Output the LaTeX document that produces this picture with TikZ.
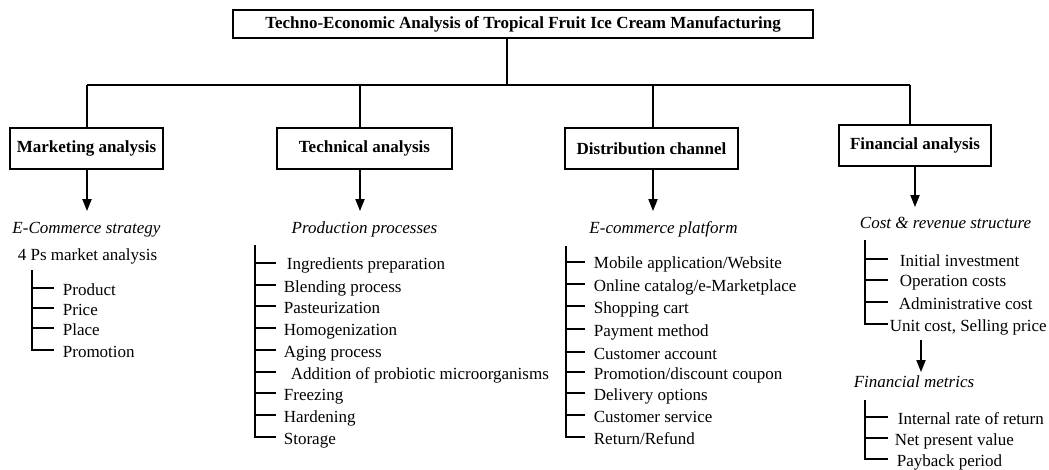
\documentclass[tikz,border=0pt]{standalone}
\usepackage{fontspec}
\setmainfont{Liberation Serif}
\usetikzlibrary{arrows.meta}
\begin{document}
\begin{tikzpicture}[x=1pt,y=-1pt,
  line width=1.8pt,
  every node/.style={font=\fontsize{17pt}{20pt}\selectfont},
  box/.style={draw, line width=1.8pt, minimum height=41pt, inner sep=0pt,
    font=\fontsize{17pt}{20pt}\selectfont\bfseries},
  item/.style={anchor=west, inner sep=0pt, text height=14pt, text depth=0pt},
  plain/.style={inner sep=0pt, text height=12pt, text depth=4pt},
  head/.style={inner sep=0pt, text height=12pt, text depth=4pt,
    font=\fontsize{17pt}{20pt}\selectfont\itshape},
  arr/.style={-{Triangle[length=12pt,width=9pt]}, line width=1.8pt},
]
\useasboundingbox (0,0) rectangle (1049,470);

% title and the four main branches
\node[box, minimum width=580pt, minimum height=28pt] (title) at (523,24)
  {Techno-Economic Analysis of Tropical Fruit Ice Cream Manufacturing};
\node[box, minimum width=153pt] (mk) at (86.5,148.5) {Marketing analysis};
\node[box, minimum width=175pt] (tc) at (364.5,148.5) {Technical analysis};
\node[box, minimum width=173pt] (dc) at (651.5,148.5) {Distribution channel};
\node[box, minimum width=152pt] (fa) at (915,145.5) {Financial analysis};

\coordinate (j0) at (507,85);
\coordinate (b1) at (87,85);
\coordinate (b2) at (360,85);
\coordinate (b3) at (653,85);
\coordinate (b4) at (910,85);
\draw (title.south -| j0) -- (j0);
\draw (b1) -- (b4);
\draw (b1) -- (b1 |- mk.north);
\draw (b2) -- (b2 |- tc.north);
\draw (b3) -- (b3 |- dc.north);
\draw (b4) -- (b4 |- fa.north);

% sub-headings
\node[head] (ecs) at (86.5,230) {E-Commerce strategy};
\node[plain] (fourp) at (87.5,257) {4 Ps market analysis};
\node[head] (pp) at (364.5,230) {Production processes};
\node[head] (ep) at (663.5,230) {E-commerce platform};
\node[head] (cr) at (945.5,225) {Cost \& revenue structure};
\node[head] (fm) at (914,383) {Financial metrics};

\draw[arr, shorten >=10pt] (b1 |- mk.south) -- (b1 |- ecs.north);
\draw[arr, shorten >=10pt] (b2 |- tc.south) -- (b2 |- pp.north);
\draw[arr, shorten >=10pt] (b3 |- dc.south) -- (b3 |- ep.north);
\draw[arr, shorten >=9pt] (fa.south) -- (fa.south |- cr.north);
\coordinate (fs) at (921,340);
\draw[arr, shorten >=2pt] (fs) -- (fs |- fm.north);

% marketing list
\coordinate (mt) at (32,270);
\coordinate (me) at (54,270);
\foreach \n/\x/\y/\t in {m1/62/288/Product, m2/62/308/Price, m3/62/328/Place, m4/62/350/Promotion}{
  \node[item] (\n) at (\x,\y) {\t};
  \draw (mt |- \n.west) -- (me |- \n.west);
}
\draw (mt) |- (me |- m4.west);

% technical list
\coordinate (tt) at (255,245);
\coordinate (te) at (276,245);
\foreach \n/\x/\y/\t in {
  t1/286/263/Ingredients preparation,
  t2/283/285/Blending process,
  t3/283/306/Pasteurization,
  t4/283/328/Homogenization,
  t5/283/350/Aging process,
  t6/290/372/Addition of probiotic microorganisms,
  t7/283/393/Freezing,
  t8/283/415/Hardening,
  t9/283/437/Storage}{
  \node[item] (\n) at (\x,\y) {\t};
  \draw (tt |- \n.west) -- (te |- \n.west);
}
\draw (tt) |- (te |- t9.west);

% distribution list
\coordinate (dt) at (566,246);
\coordinate (de) at (585,246);
\foreach \n/\x/\y/\t in {
  d1/593/262/{Mobile application/Website},
  d2/593/284/{Online catalog/e-Marketplace},
  d3/593/306/Shopping cart,
  d4/593/329/Payment method,
  d5/593/352/Customer account,
  d6/593/372/{Promotion/discount coupon},
  d7/593/393/Delivery options,
  d8/593/415/Customer service,
  d9/593/437/{Return/Refund}}{
  \node[item] (\n) at (\x,\y) {\t};
  \draw (dt |- \n.west) -- (de |- \n.west);
}
\draw (dt) |- (de |- d9.west);

% cost and revenue list
\coordinate (ft) at (865,240);
\coordinate (fe) at (888,240);
\foreach \n/\x/\y/\t in {
  f1/899/259/Initial investment,
  f2/899/280/Operation costs,
  f3/898/302/Administrative cost,
  f4/889/324/{Unit cost, Selling price}}{
  \node[item] (\n) at (\x,\y) {\t};
  \draw (ft |- \n.west) -- (fe |- \n.west);
}
\draw (ft) |- (fe |- f4.west);

% financial metrics list
\coordinate (gt) at (865,400);
\coordinate (ge) at (888,400);
\foreach \n/\x/\y/\t in {
  g1/897/417/Internal rate of return,
  g2/894/438/Net present value,
  g3/896/459/Payback period}{
  \node[item] (\n) at (\x,\y) {\t};
  \draw (gt |- \n.west) -- (ge |- \n.west);
}
\draw (gt) |- (ge |- g3.west);
\end{tikzpicture}
\end{document}
